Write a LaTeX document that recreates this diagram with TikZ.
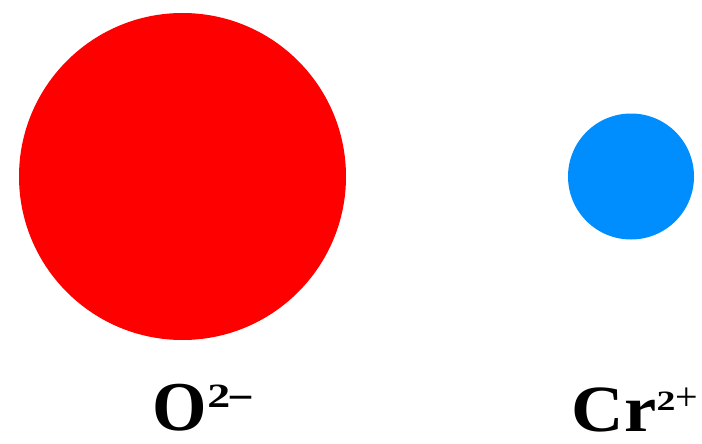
\documentclass[tikz,border=0pt]{standalone}
\usepackage{fontspec}
\setmainfont{Liberation Serif}
\usepackage{xcolor}
\usetikzlibrary{positioning}
\definecolor{oxyRed}{RGB}{255, 0, 0}
\definecolor{chromBlue}{RGB}{0, 142, 255}
\newcommand{\chargesup}[3]{%
  \raisebox{#1}{\fontsize{#2}{#2}\selectfont\scalebox{1.35}[1]{2}#3}}
\tikzset{
  ion/.style={
    circle, inner sep=0pt, draw=none
  },
  ionlabel/.style={
    anchor=base, inner sep=0pt,
    font=\fontsize{70}{70}\selectfont\bfseries
  }
}

\begin{document}
\begin{tikzpicture}[x=1pt, y=-1pt]

  % ── Canvas ───────────────────────────────────────────────────────────────
  \useasboundingbox (0,0) rectangle (702,444);

  % ── Ions ─────────────────────────────────────────────────────────────────
  \node[ion, fill=oxyRed, minimum size=327pt] (oxy) at (182.5,176.5) {};
  \node[ion, fill=chromBlue, minimum size=126pt] (chrom) at (631,176.5) {};

  % ── Labels ───────────────────────────────────────────────────────────────
  \node[ionlabel] (oxylabel) at (202,430)
    {O\chargesup{0.32em}{34}{\fontsize{42}{42}\selectfont –}};
  \node[ionlabel, font=\fontsize{66}{66}\selectfont\bfseries] (chromlabel) at (635,431)
    {\scalebox{1.1}[1]{Cr}\chargesup{0.31em}{28}{\fontsize{40}{40}\selectfont\mdseries +}};

\end{tikzpicture}
\end{document}
